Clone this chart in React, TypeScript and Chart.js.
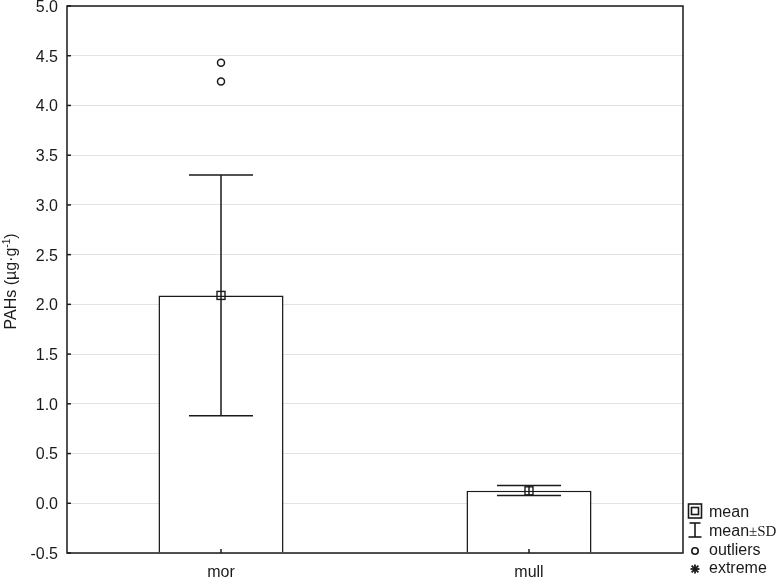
import { useEffect, useRef } from "react";
import { Chart, registerables } from "chart.js";

Chart.register(...registerables);

// ---- data ----
const categories = ["mor", "mull"];
const means = [2.09, 0.125];
const sdLow = [0.88, 0.077];
const sdHigh = [3.3, 0.178];
const outliers: number[][] = [[4.43, 4.24], []];
const yMin = -0.5;
const yMax = 5.0;
const yStep = 0.5;
const yTitle = "PAHs (µg·g";
const yTitleSup = "-1";
const legendLabels = ["mean", "mean", "outliers", "extreme"];

const SANS = "'Liberation Sans', Arial, Helvetica, sans-serif";
const SERIF = "'Liberation Serif', 'Times New Roman', serif";
const INK = "#1a1a1a";

const overlay = {
  id: "overlay",
  afterDatasetsDraw(chart: any) {
    const { ctx, chartArea: a, scales } = chart;
    const x = scales.x;
    const y = scales.y;
    const meta = chart.getDatasetMeta(0);
    const line = (x1: number, y1: number, x2: number, y2: number) => {
      ctx.beginPath();
      ctx.moveTo(x1, y1);
      ctx.lineTo(x2, y2);
      ctx.stroke();
    };
    ctx.save();
    ctx.strokeStyle = INK;
    ctx.fillStyle = INK;
    ctx.lineWidth = 1.5;

    // inner y ticks
    y.ticks.forEach((t: any) => {
      const py = y.getPixelForValue(t.value);
      line(a.left, py, a.left + 4, py);
    });
    // inner x ticks
    categories.forEach((_, i) => {
      const px = x.getPixelForValue(i);
      line(px, a.bottom, px, a.bottom - 4);
    });

    // error bars, means, outliers
    categories.forEach((_, i) => {
      const px = x.getPixelForValue(i);
      const bw = meta.data[i].width;
      const ch = bw * 0.256;
      const pLo = y.getPixelForValue(sdLow[i]);
      const pHi = y.getPixelForValue(sdHigh[i]);
      const pM = y.getPixelForValue(means[i]);
      line(px, pLo, px, pHi);
      line(px - ch, pLo, px + ch, pLo);
      line(px - ch, pHi, px + ch, pHi);
      ctx.lineWidth = 1.4;
      ctx.strokeRect(px - 4, pM - 4, 8, 8);
      ctx.lineWidth = 1.5;
      outliers[i].forEach((v) => {
        const py = y.getPixelForValue(v);
        ctx.beginPath();
        ctx.arc(px, py, 3.5, 0, Math.PI * 2);
        ctx.stroke();
      });
    });

    // frame
    ctx.lineWidth = 1.5;
    ctx.strokeRect(a.left, a.top, a.right - a.left, a.bottom - a.top);

    // y axis title
    ctx.save();
    ctx.translate(16, (a.top + a.bottom) / 2 + 2);
    ctx.rotate(-Math.PI / 2);
    ctx.font = `16px ${SANS}`;
    const w1 = ctx.measureText(yTitle).width;
    ctx.font = `10px ${SANS}`;
    const w2 = ctx.measureText(yTitleSup).width;
    ctx.font = `16px ${SANS}`;
    const w3 = ctx.measureText(")").width;
    const total = w1 + w2 + w3;
    ctx.textBaseline = "alphabetic";
    ctx.textAlign = "left";
    let cx = -total / 2;
    ctx.fillText(yTitle, cx, 0);
    cx += w1;
    ctx.font = `10px ${SANS}`;
    ctx.fillText(yTitleSup, cx, -6.5);
    cx += w2;
    ctx.font = `16px ${SANS}`;
    ctx.fillText(")", cx, 0);
    ctx.restore();

    // legend
    const lx = a.right + 5;
    const tx = a.right + 26;
    const base = [517, 536, 555, 573];
    ctx.textAlign = "left";
    ctx.textBaseline = "alphabetic";
    ctx.font = `16px ${SANS}`;
    // mean symbol
    ctx.lineWidth = 1.6;
    ctx.strokeRect(lx + 0.5, 504, 13, 14);
    ctx.strokeRect(lx + 3.5, 507.5, 7, 7);
    ctx.fillText(legendLabels[0], tx, base[0]);
    // mean±SD symbol
    line(lx + 7, 523, lx + 7, 537);
    line(lx + 1.5, 523, lx + 12.5, 523);
    line(lx + 0.5, 537, lx + 13.5, 537);
    ctx.fillText(legendLabels[1], tx, base[1]);
    const mw = ctx.measureText(legendLabels[1]).width;
    ctx.font = `15px ${SERIF}`;
    ctx.fillText("±SD", tx + mw, base[1]);
    ctx.font = `16px ${SANS}`;
    // outliers symbol
    ctx.beginPath();
    ctx.arc(lx + 7, 551, 3.2, 0, Math.PI * 2);
    ctx.stroke();
    ctx.fillText(legendLabels[2], tx, base[2]);
    // extreme symbol
    ctx.lineWidth = 1.8;
    const ex = lx + 7;
    const ey = 569;
    const r = 4.5;
    line(ex - r, ey, ex + r, ey);
    line(ex, ey - r, ex, ey + r);
    line(ex - r * 0.75, ey - r * 0.75, ex + r * 0.75, ey + r * 0.75);
    line(ex - r * 0.75, ey + r * 0.75, ex + r * 0.75, ey - r * 0.75);
    ctx.fillText(legendLabels[3], tx, base[3]);

    ctx.restore();
  },
};

export default function App() {
  const ref = useRef<HTMLCanvasElement | null>(null);
  useEffect(() => {
    document.body.style.margin = "0";
    const canvas = ref.current!;
    const chart = new Chart(canvas, {
      type: "bar",
      data: {
        labels: categories,
        datasets: [
          {
            data: means,
            base: yMin,
            backgroundColor: "#ffffff",
            borderColor: INK,
            borderWidth: 1.5,
            borderSkipped: "start",
            barPercentage: 0.406,
            categoryPercentage: 1,
          } as any,
        ],
      },
      options: {
        responsive: false,
        animation: false,
        devicePixelRatio: 1,
        layout: { padding: { left: 0, right: 95, top: 6, bottom: 0 } },
        plugins: {
          legend: { display: false },
          tooltip: { enabled: false },
        },
        scales: {
          x: {
            type: "category",
            grid: { display: false, drawTicks: false },
            border: { display: false },
            ticks: {
              padding: 10,
              color: INK,
              font: { family: SANS, size: 16 },
            },
            afterFit: (s: any) => {
              s.height = 26;
              s.paddingLeft = 0;
              s.paddingRight = 0;
            },
          },
          y: {
            min: yMin,
            max: yMax,
            grid: { color: "#e3e3e3", lineWidth: 1, drawTicks: false },
            border: { display: false },
            ticks: {
              stepSize: yStep,
              padding: 9,
              labelOffset: 1.5,
              color: INK,
              font: { family: SANS, size: 16 },
              callback: (v: any) => Number(v).toFixed(1),
            },
            afterFit: (s: any) => {
              s.width = 67;
              s.paddingTop = 0;
              s.paddingBottom = 0;
            },
          },
        },
      },
      plugins: [overlay],
    });
    return () => chart.destroy();
  }, []);
  return <canvas ref={ref} width={778} height={579} style={{ display: "block" }} />;
}
